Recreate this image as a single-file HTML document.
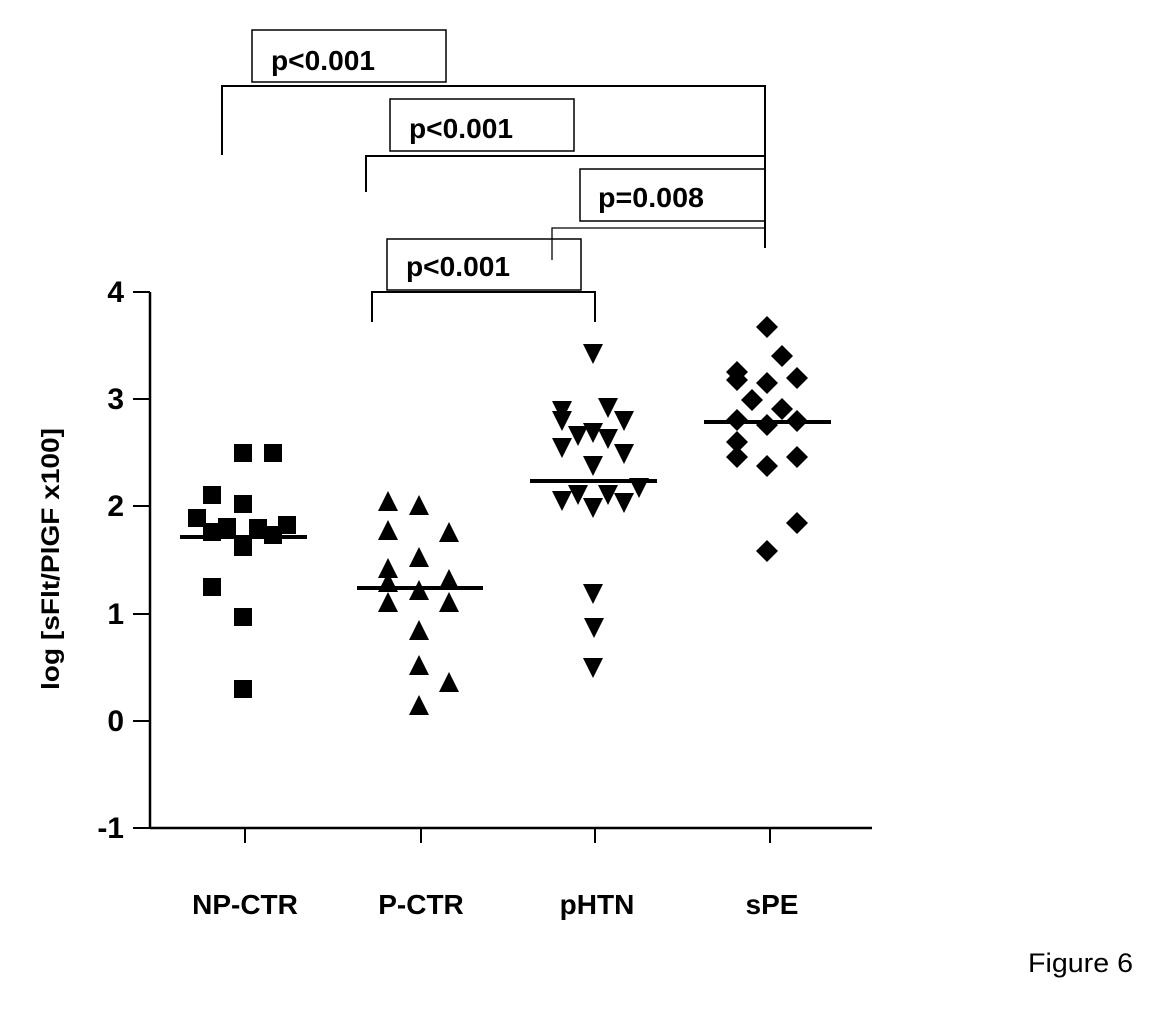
<!DOCTYPE html>
<html><head><meta charset="utf-8"><style>
html,body{margin:0;padding:0;background:#fff;}
svg{display:block;font-family:"Liberation Sans",Arial,sans-serif;}
</style></head><body>
<svg width="1157" height="1016" viewBox="0 0 1157 1016" xmlns="http://www.w3.org/2000/svg">
<defs>
<rect id="sq" x="-9" y="-9" width="18" height="18" fill="#000"/>
<polygon id="tu" points="0,-11 10,9 -10,9" fill="#000"/>
<polygon id="td" points="0,11 10,-9 -10,-9" fill="#000"/>
<polygon id="dm" points="0,-11 11,0 0,11 -11,0" fill="#000"/>
</defs>
<g stroke="#000" fill="none">
<line x1="150" y1="292" x2="150" y2="828" stroke-width="2.5"/>
<line x1="150" y1="828" x2="872" y2="828" stroke-width="2.5"/>
<g stroke-width="2">
<line x1="133" y1="292" x2="150" y2="292"/><line x1="133" y1="399" x2="150" y2="399"/>
<line x1="133" y1="506" x2="150" y2="506"/><line x1="133" y1="614" x2="150" y2="614"/>
<line x1="133" y1="721" x2="150" y2="721"/><line x1="133" y1="828" x2="150" y2="828"/>
<line x1="245" y1="828" x2="245" y2="843"/><line x1="421" y1="828" x2="421" y2="843"/>
<line x1="595" y1="828" x2="595" y2="843"/><line x1="770" y1="828" x2="770" y2="843"/>
</g>
<g stroke-width="2">
<polyline points="222,155 222,86 765,86 765,248"/>
<polyline points="366,192 366,156 765,156"/>
<polyline points="552,260 552,228 765,228" stroke-width="1.3"/>
<polyline points="372,322 372,292 595,292 595,322"/>
</g>
<g stroke-width="1.5">
<rect x="252" y="30" width="194" height="52"/>
<rect x="390" y="99" width="184" height="52"/>
<rect x="580" y="169" width="185" height="52"/>
<rect x="387" y="239" width="194" height="51"/>
</g>
<g stroke-width="4">
<line x1="180" y1="537" x2="307" y2="537"/>
<line x1="357" y1="588" x2="483" y2="588"/>
<line x1="530" y1="481" x2="657" y2="481"/>
<line x1="704" y1="422" x2="831" y2="422"/>
</g>
</g>
<g font-weight="bold" font-size="28" fill="#000">
<text x="271" y="70" textLength="104" lengthAdjust="spacingAndGlyphs">p&lt;0.001</text>
<text x="409" y="138" textLength="104" lengthAdjust="spacingAndGlyphs">p&lt;0.001</text>
<text x="598" y="207" textLength="106" lengthAdjust="spacingAndGlyphs">p=0.008</text>
<text x="406" y="276" textLength="104" lengthAdjust="spacingAndGlyphs">p&lt;0.001</text>
</g>
<g font-weight="bold" font-size="30" fill="#000" text-anchor="end">
<text x="124" y="302">4</text><text x="124" y="409">3</text><text x="124" y="516">2</text>
<text x="124" y="624">1</text><text x="124" y="731">0</text><text x="124" y="838">-1</text>
</g>
<text transform="translate(59,559) rotate(-90)" text-anchor="middle" font-weight="bold" font-size="25" textLength="262" lengthAdjust="spacingAndGlyphs">log [sFlt/PlGF x100]</text>
<g font-weight="bold" font-size="28" text-anchor="middle">
<text x="245" y="914">NP-CTR</text><text x="421" y="914">P-CTR</text>
<text x="597" y="914">pHTN</text><text x="772" y="914">sPE</text>
</g>
<text x="1028" y="972" font-size="27" textLength="105" lengthAdjust="spacingAndGlyphs">Figure 6</text>
<g>
<use href="#sq" x="243" y="453"/><use href="#sq" x="273" y="453"/>
<use href="#sq" x="212" y="495"/><use href="#sq" x="243" y="504"/>
<use href="#sq" x="197" y="518"/><use href="#sq" x="212" y="532"/>
<use href="#sq" x="227" y="527"/><use href="#sq" x="258" y="528"/>
<use href="#sq" x="273" y="535"/><use href="#sq" x="287" y="525"/>
<use href="#sq" x="243" y="547"/><use href="#sq" x="212" y="587"/>
<use href="#sq" x="243" y="617"/><use href="#sq" x="243" y="689"/>
</g>
<g>
<use href="#tu" x="388" y="502"/><use href="#tu" x="419" y="506"/>
<use href="#tu" x="388" y="531"/><use href="#tu" x="449" y="533"/>
<use href="#tu" x="419" y="558"/><use href="#tu" x="388" y="569"/>
<use href="#tu" x="449" y="580"/><use href="#tu" x="388" y="583"/>
<use href="#tu" x="419" y="591"/><use href="#tu" x="388" y="603"/>
<use href="#tu" x="449" y="603"/><use href="#tu" x="419" y="631"/>
<use href="#tu" x="419" y="666"/><use href="#tu" x="449" y="683"/>
<use href="#tu" x="419" y="706"/>
</g>
<g>
<use href="#td" x="593" y="353"/><use href="#td" x="562" y="410"/>
<use href="#td" x="608" y="407"/><use href="#td" x="562" y="420"/>
<use href="#td" x="624" y="420"/><use href="#td" x="578" y="435"/>
<use href="#td" x="593" y="432"/><use href="#td" x="608" y="438"/>
<use href="#td" x="562" y="447"/><use href="#td" x="624" y="453"/>
<use href="#td" x="593" y="465"/><use href="#td" x="562" y="500"/>
<use href="#td" x="578" y="494"/><use href="#td" x="593" y="507"/>
<use href="#td" x="608" y="494"/><use href="#td" x="624" y="502"/>
<use href="#td" x="639" y="487"/><use href="#td" x="593" y="593"/>
<use href="#td" x="594" y="627"/><use href="#td" x="593" y="667"/>
</g>
<g>
<use href="#dm" x="767" y="327"/><use href="#dm" x="782" y="356"/>
<use href="#dm" x="737" y="372"/><use href="#dm" x="737" y="380"/>
<use href="#dm" x="767" y="383"/><use href="#dm" x="797" y="378"/>
<use href="#dm" x="752" y="400"/><use href="#dm" x="782" y="409"/>
<use href="#dm" x="737" y="420"/><use href="#dm" x="767" y="425"/>
<use href="#dm" x="797" y="421"/><use href="#dm" x="737" y="442"/>
<use href="#dm" x="737" y="457"/><use href="#dm" x="767" y="466"/>
<use href="#dm" x="797" y="457"/><use href="#dm" x="797" y="523"/>
<use href="#dm" x="767" y="551"/>
</g>
</svg>
</body></html>
